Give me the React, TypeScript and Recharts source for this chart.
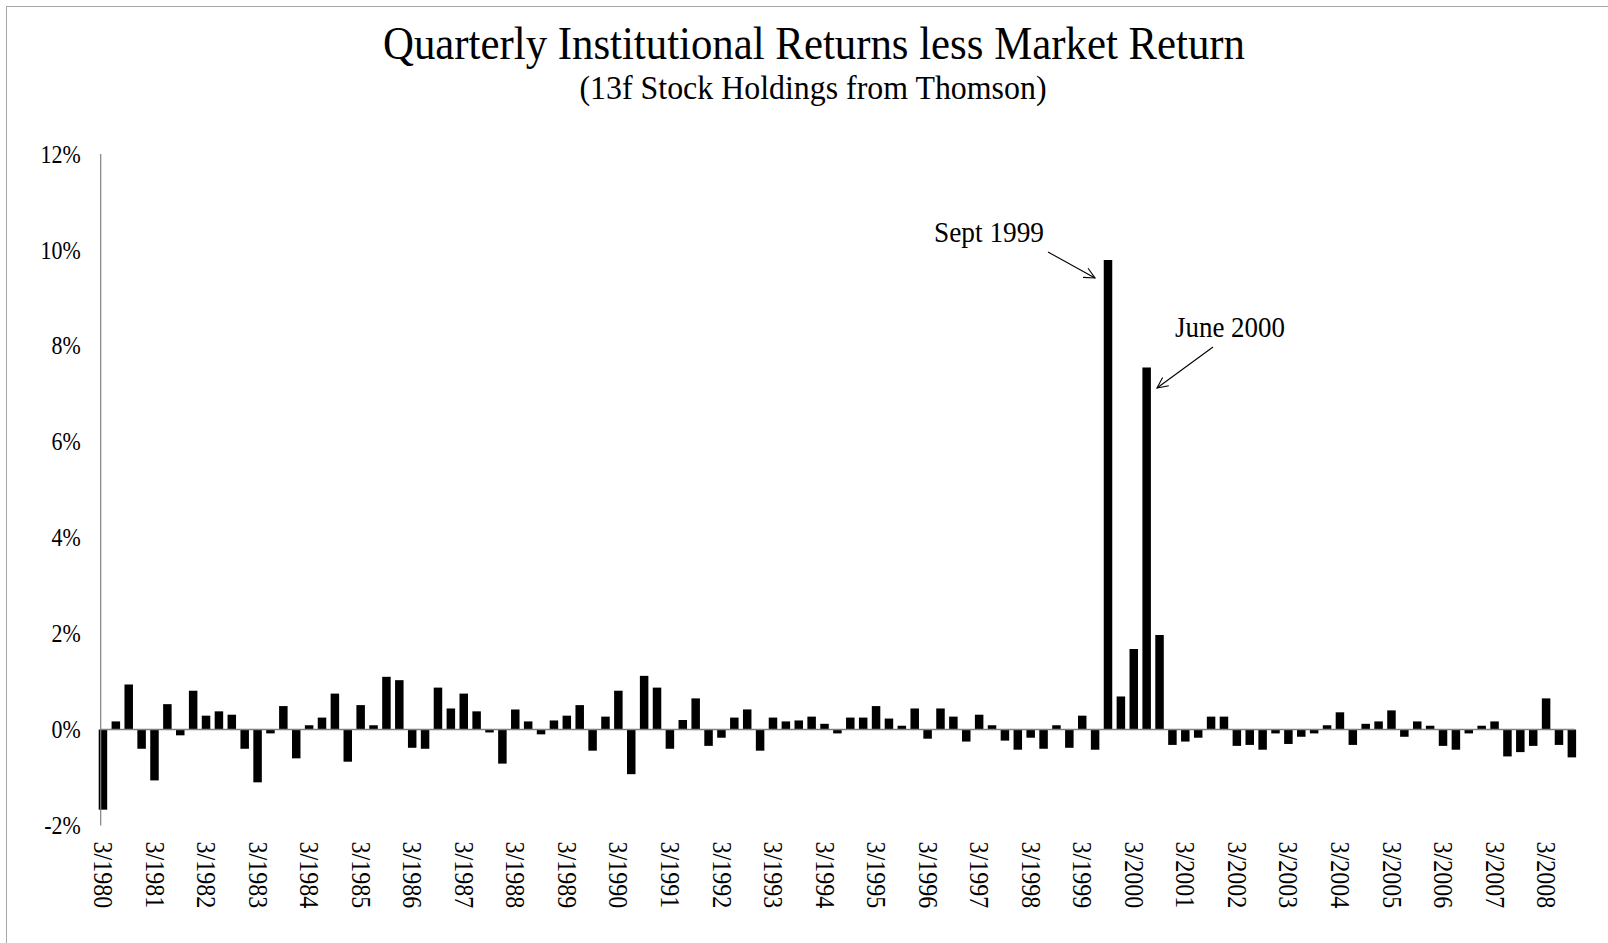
import { Bar, BarChart, ReferenceLine, XAxis, YAxis } from "recharts";

const SERIF = '"Liberation Serif", "Times New Roman", serif';
const AXIS_GRAY = "#808080";

const YEARS = [
  1980, 1981, 1982, 1983, 1984, 1985, 1986, 1987, 1988, 1989, 1990, 1991, 1992, 1993, 1994,
  1995, 1996, 1997, 1998, 1999, 2000, 2001, 2002, 2003, 2004, 2005, 2006, 2007, 2008,
];
const QUARTER_MONTHS = ["3", "6", "9", "12"];

// institutional return minus market return, %, one value per quarter (3/1980 .. 9/2008)
const EXCESS_RETURN = [
  -1.67, 0.17, 0.94, -0.4,
  -1.06, 0.53, -0.12, 0.81,
  0.29, 0.38, 0.31, -0.4,
  -1.1, -0.08, 0.49, -0.6,
  0.09, 0.25, 0.75, -0.67,
  0.51, 0.09, 1.1, 1.03,
  -0.38, -0.4, 0.875, 0.44,
  0.75, 0.38, -0.06, -0.71,
  0.42, 0.17, -0.1, 0.19,
  0.29, 0.51, -0.44, 0.27,
  0.81, -0.93, 1.12, 0.875,
  -0.4, 0.2, 0.65, -0.34,
  -0.17, 0.25, 0.42, -0.44,
  0.25, 0.17, 0.19, 0.27,
  0.12, -0.08, 0.25, 0.25,
  0.49, 0.23, 0.08, 0.44,
  -0.19, 0.44, 0.27, -0.25,
  0.31, 0.09, -0.23, -0.42,
  -0.17, -0.4, 0.09, -0.38,
  0.29, -0.42, 9.79, 0.69,
  1.68, 7.55, 1.97, -0.32,
  -0.25, -0.17, 0.27, 0.27,
  -0.34, -0.32, -0.42, -0.08,
  -0.3, -0.15, -0.08, 0.09,
  0.36, -0.32, 0.12, 0.17,
  0.4, -0.15, 0.17, 0.08,
  -0.34, -0.42, -0.08, 0.08,
  0.17, -0.56, -0.47, -0.34,
  0.65, -0.32, -0.58,
];

const Y_TICKS = [-2, 0, 2, 4, 6, 8, 10, 12];

const QUARTERS = YEARS.flatMap((year) => QUARTER_MONTHS.map((month) => `${month}/${year}`)).slice(
  0,
  EXCESS_RETURN.length,
);

const chartData = QUARTERS.map((quarter, i) => ({ quarter, value: EXCESS_RETURN[i] }));

// the original text is Times squeezed sideways, so draw it a bit bigger and narrow it
function QuarterTick({ x, y, payload }: any) {
  const ty = y + 16;
  return (
    <g transform={`translate(${x}, ${ty}) rotate(90) scale(0.86, 1)`}>
      <text x={0} y={0} textAnchor="start" dominantBaseline="central" fontFamily={SERIF} fontSize={28} fill="#000">
        {payload.value}
      </text>
    </g>
  );
}

function PercentTick({ x, y, payload }: any) {
  return (
    <g transform={`translate(${x}, ${y}) scale(0.86, 1)`}>
      <text x={0} y={0} textAnchor="end" dominantBaseline="central" fontFamily={SERIF} fontSize={25.5} fill="#000">
        {`${payload.value}%`}
      </text>
    </g>
  );
}

// open V arrow head, like the Excel callouts
function Arrow({ x1, y1, x2, y2 }: { x1: number; y1: number; x2: number; y2: number }) {
  const angle = Math.atan2(y2 - y1, x2 - x1);
  const len = 12;
  const spread = 0.45;
  const h1 = [x2 - len * Math.cos(angle - spread), y2 - len * Math.sin(angle - spread)];
  const h2 = [x2 - len * Math.cos(angle + spread), y2 - len * Math.sin(angle + spread)];
  return (
    <g stroke="#000" strokeWidth={1.1} fill="none">
      <line x1={x1} y1={y1} x2={x2} y2={y2} />
      <polyline points={`${h1[0]},${h1[1]} ${x2},${y2} ${h2[0]},${h2[1]}`} />
    </g>
  );
}

export default function App() {
  return (
    <div style={{ position: "absolute", left: 0, top: 0, width: 1608, height: 943, background: "#fff", overflow: "hidden" }}>
      <BarChart
        width={1608}
        height={943}
        data={chartData}
        margin={{ top: 154, right: 33.5, bottom: 17.5, left: 0 }}
        barSize={8.5}
      >
        <XAxis
          dataKey="quarter"
          interval={3}
          axisLine={false}
          tickLine={false}
          tickSize={0}
          tickMargin={0}
          height={100}
          padding={{ left: -4, right: -4 }}
          tick={<QuarterTick />}
        />
        <YAxis
          domain={[-2, 12]}
          ticks={Y_TICKS}
          interval={0}
          width={100.7}
          axisLine={{ stroke: AXIS_GRAY, strokeWidth: 1.2 }}
          tickLine={false}
          tickSize={0}
          tickMargin={20}
          tick={<PercentTick />}
        />
        <Bar dataKey="value" fill="#000" isAnimationActive={false} />
        <ReferenceLine y={0} stroke={AXIS_GRAY} strokeWidth={1.5} />
      </BarChart>

      <svg
        width={1608}
        height={943}
        style={{ position: "absolute", left: 0, top: 0, pointerEvents: "none" }}
      >
        <rect x={6.5} y={6.5} width={1700} height={1000} fill="none" stroke="#a6a6a6" strokeWidth={1} />
        <text
          x={814}
          y={58.5}
          textAnchor="middle"
          fontFamily={SERIF}
          fontSize={46}
          textLength={862}
          lengthAdjust="spacingAndGlyphs"
          fill="#000"
        >
          Quarterly Institutional Returns less Market Return
        </text>
        <text
          x={813}
          y={98.5}
          textAnchor="middle"
          fontFamily={SERIF}
          fontSize={34}
          textLength={467}
          lengthAdjust="spacingAndGlyphs"
          fill="#000"
        >
          (13f Stock Holdings from Thomson)
        </text>

        <text x={934} y={242} fontFamily={SERIF} fontSize={29} textLength={110} lengthAdjust="spacingAndGlyphs" fill="#000">
          Sept 1999
        </text>
        <Arrow x1={1048} y1={252} x2={1095} y2={278} />

        <text x={1175} y={337} fontFamily={SERIF} fontSize={29} textLength={110} lengthAdjust="spacingAndGlyphs" fill="#000">
          June 2000
        </text>
        <Arrow x1={1213} y1={347} x2={1157} y2={388} />
      </svg>
    </div>
  );
}
